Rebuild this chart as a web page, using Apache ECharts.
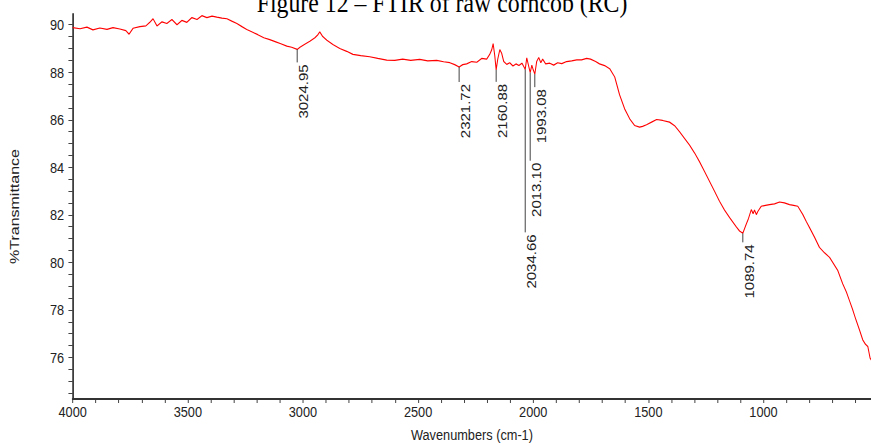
<!DOCTYPE html>
<html>
<head>
<meta charset="utf-8">
<script src="https://cdn.jsdelivr.net/npm/echarts@6/dist/echarts.min.js"></script>
<style>
  html, body { margin: 0; padding: 0; background: #fff; overflow: hidden; width: 871px; height: 447px; }
  /* the plot is laid out on a wider sheet and narrowed horizontally */
  #chart { width: 1025px; height: 447px; transform: scaleX(0.85); transform-origin: 0 0; }
</style>
</head>
<body>
<div id="chart"></div>
<script>
// FTIR spectrum of raw corncob: wavenumber (cm-1) and %T
const wavenumbers = [
  4000, 3968, 3938, 3912, 3882, 3851, 3825, 3795, 3769, 3755, 3738, 3708, 3682, 3665, 3651, 3634,
  3612, 3591, 3569, 3547, 3526, 3504, 3482, 3460, 3439, 3417, 3395, 3374, 3352, 3330, 3309, 3287,
  3265, 3244, 3218, 3196, 3170, 3144, 3118, 3096, 3070, 3049, 3024.95, 3013, 2992, 2970, 2948, 2935,
  2927, 2914, 2896, 2870, 2840, 2810, 2783, 2749, 2710, 2675, 2636, 2601, 2567, 2532, 2493, 2458,
  2419, 2389, 2362, 2341, 2321.72, 2306, 2289, 2267, 2245, 2224, 2202, 2189, 2180, 2174, 2167, 2160.88,
  2154, 2145, 2137, 2128, 2115, 2102, 2088, 2075, 2062, 2049, 2040, 2034.66, 2028, 2022, 2013.10, 2006,
  2000, 1993.08, 1985, 1976, 1967, 1959, 1946, 1928, 1911, 1894, 1876, 1855, 1833, 1811, 1790, 1768,
  1751, 1729, 1712, 1690, 1668, 1646, 1625, 1603, 1581, 1560, 1538, 1525, 1508, 1486, 1464, 1438,
  1408, 1386, 1364, 1343, 1321, 1299, 1278, 1256, 1234, 1212, 1191, 1169, 1147, 1118, 1104, 1089.74,
  1075, 1065, 1053, 1045, 1039, 1031, 1024, 1010, 991, 974, 952, 930, 909, 887, 869, 851,
  829, 813, 800, 778, 757, 735, 713, 696, 677, 656, 640, 627, 614, 598, 583, 569,
  557, 547, 537, 526
];
const transmittance = [
  89.88, 89.83, 89.90, 89.78, 89.86, 89.80, 89.88, 89.82, 89.75, 89.60, 89.85, 89.92, 89.95, 90.10, 90.25, 89.95,
  90.12, 90.05, 90.22, 90.00, 90.18, 90.10, 90.30, 90.22, 90.38, 90.30, 90.36, 90.32, 90.28, 90.25, 90.15, 90.05,
  89.92, 89.80, 89.68, 89.58, 89.45, 89.37, 89.28, 89.20, 89.10, 89.05, 88.96, 89.05, 89.18, 89.30, 89.45, 89.58,
  89.70, 89.50, 89.35, 89.17, 89.00, 88.88, 88.75, 88.70, 88.65, 88.58, 88.51, 88.50, 88.55, 88.50, 88.54, 88.48,
  88.50, 88.44, 88.40, 88.32, 88.22, 88.32, 88.35, 88.45, 88.42, 88.58, 88.55, 88.75, 88.95, 89.20, 88.70, 88.10,
  88.55, 88.95, 88.80, 88.45, 88.33, 88.40, 88.26, 88.35, 88.28, 88.38, 88.22, 88.12, 88.60, 88.35, 87.98, 88.30,
  88.10, 87.92, 88.45, 88.62, 88.40, 88.55, 88.35, 88.38, 88.30, 88.40, 88.36, 88.45, 88.48, 88.52, 88.52, 88.58,
  88.55, 88.45, 88.35, 88.28, 88.15, 87.80, 87.05, 86.46, 86.04, 85.76, 85.69, 85.72, 85.79, 85.90, 86.01, 85.97,
  85.90, 85.75, 85.49, 85.22, 84.93, 84.60, 84.24, 83.82, 83.40, 82.98, 82.57, 82.20, 81.88, 81.49, 81.32, 81.22,
  81.60, 81.85, 82.22, 82.05, 82.20, 82.01, 82.15, 82.36, 82.40, 82.43, 82.46, 82.54, 82.50, 82.43, 82.40, 82.36,
  82.01, 81.70, 81.46, 81.05, 80.63, 80.40, 80.21, 79.95, 79.65, 79.10, 78.75, 78.40, 78.05, 77.57, 77.15, 76.74,
  76.55, 76.46, 75.97, 75.80
];

// labelled absorption bands
const peakWavenumbers = [3024.95, 2321.72, 2160.88, 2034.66, 2013.10, 1993.08, 1089.74];
const peakTransmittance = [88.96, 88.22, 88.10, 88.12, 87.98, 87.92, 81.22];

// axis tick labels
const xTickLabels = [4000, 3500, 3000, 2500, 2000, 1500, 1000];
const yTickLabels = [76, 78, 80, 82, 84, 86, 88, 90];

// leader line length (px) below each band marker
const leaderLength = [13, 15, 12, 163, 88, 13, 9];

const xTicks = [];
for (let w = 4000; w >= 600; w -= 100) xTicks.push(w);
const yTicks = [];
for (let t = 74.5; t <= 90; t += 0.5) yTicks.push(t);

const sans = '"Liberation Sans", Arial, sans-serif';
const inkText = '#222';
const inkAxis = '#333';

const spectrum = wavenumbers.map((w, i) => [w, transmittance[i]]);
const peaks = peakWavenumbers.map((w, i) => [w, peakTransmittance[i]]);

const chart = echarts.init(document.getElementById('chart'), null, { renderer: 'svg' });

chart.setOption({
  animation: false,
  backgroundColor: '#fff',
  grid: { left: 85.5, right: 0, top: 14, bottom: 43 },
  graphic: [{
    type: 'text',
    x: 520,
    y: 3,
    style: {
      text: 'Figure 12 \u2013 FTIR of raw corncob (RC)',
      font: '28px "Liberation Serif", "Times New Roman", serif',
      fill: '#000',
      align: 'center',
      verticalAlign: 'middle'
    }
  }],
  xAxis: {
    type: 'value',
    inverse: true,
    min: 532,
    max: 4000,
    name: 'Wavenumbers (cm-1)',
    nameLocation: 'middle',
    nameGap: 28,
    nameTextStyle: { fontFamily: sans, fontSize: 15, color: inkText },
    axisLine: { show: true, onZero: false, lineStyle: { color: inkAxis, width: 2 } },
    axisTick: { show: true, customValues: xTicks, length: 4, lineStyle: { color: inkAxis, width: 1 } },
    axisLabel: {
      customValues: xTickLabels,
      formatter: (v) => String(v),
      margin: 5, fontFamily: sans, fontSize: 15, color: inkText
    },
    splitLine: { show: false }
  },
  yAxis: {
    type: 'value',
    min: 74.25,
    max: 90.45,
    name: '%Transmittance',
    nameLocation: 'middle',
    nameGap: 60,
    nameTextStyle: { fontFamily: sans, fontSize: 16, color: inkText },
    axisLine: { show: true, onZero: false, lineStyle: { color: inkAxis, width: 2 } },
    axisTick: { show: true, customValues: yTicks, length: 5, lineStyle: { color: inkAxis, width: 1 } },
    axisLabel: {
      customValues: yTickLabels,
      formatter: (v) => String(v),
      margin: 10, fontFamily: sans, fontSize: 15, color: inkText
    },
    splitLine: { show: false }
  },
  series: [
    {
      type: 'line',
      data: spectrum,
      showSymbol: false,
      symbol: 'none',
      lineStyle: { color: '#ff0000', width: 1.2 },
      z: 2,
      silent: true
    },
    {
      type: 'custom',
      data: peaks,
      z: 3,
      silent: true,
      clip: false,
      renderItem: function (params, api) {
        const i = params.dataIndex;
        const p = api.coord([api.value(0), api.value(1)]);
        const len = leaderLength[i];
        return {
          type: 'group',
          children: [
            {
              type: 'line',
              shape: { x1: p[0], y1: p[1], x2: p[0], y2: p[1] + len },
              style: { stroke: '#333', lineWidth: 1 }
            },
            {
              type: 'text',
              x: p[0],
              y: p[1] + len + 2,
              rotation: Math.PI / 2,
              style: {
                text: peakWavenumbers[i].toFixed(2),
                font: '15px ' + sans,
                fill: inkText,
                align: 'right',
                verticalAlign: 'top'
              }
            }
          ]
        };
      }
    }
  ]
});
</script>
</body>
</html>
